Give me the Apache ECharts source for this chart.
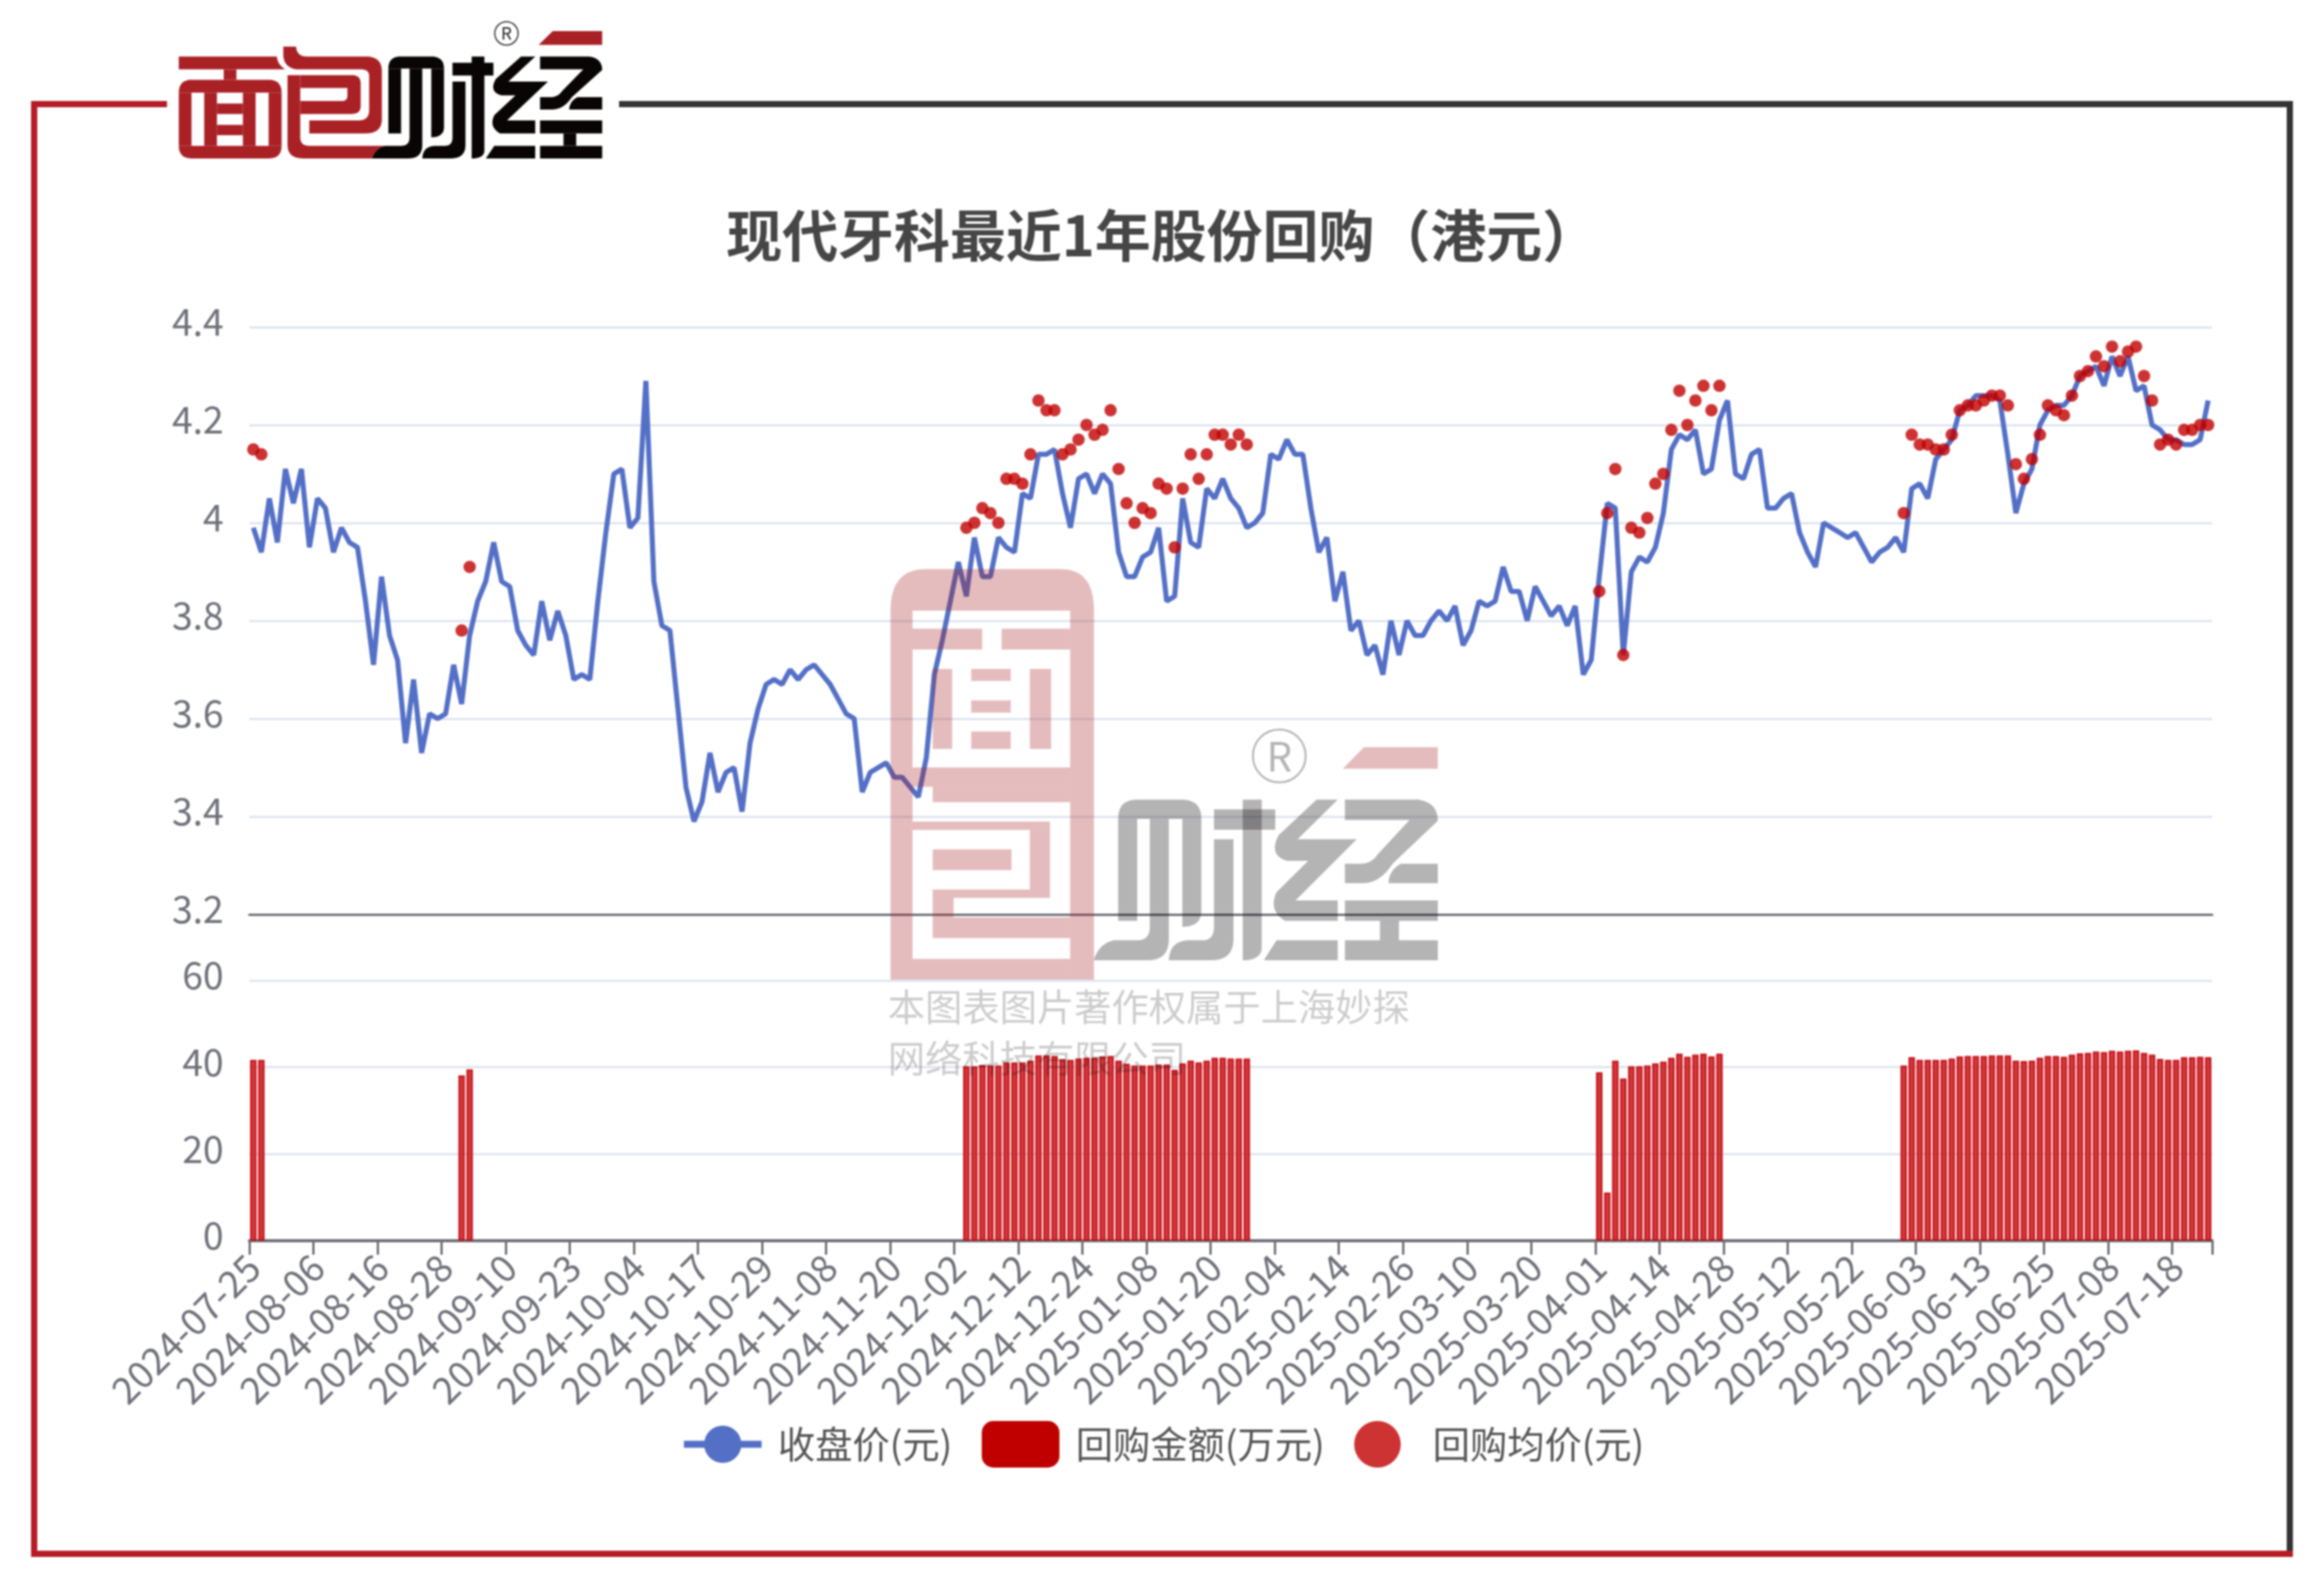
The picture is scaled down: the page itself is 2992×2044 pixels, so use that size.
<!DOCTYPE html>
<html><head><meta charset="utf-8">
<style>html,body{margin:0;padding:0;background:#fff}#main{width:2992px;height:2044px;filter:blur(0.9px)}</style>
<script src="https://cdn.jsdelivr.net/npm/echarts@6/dist/echarts.min.js"></script>
</head><body><div id="main"></div>
<script>
const titleText = '现代牙科最近1年股份回购（港元）';
const seriesNames = ['收盘价(元)', '回购金额(万元)', '回购均价(元)'];
const dates = [
'2024-07-25','2024-07-26','2024-07-29','2024-07-30','2024-07-31','2024-08-01','2024-08-02','2024-08-05',
'2024-08-06','2024-08-07','2024-08-08','2024-08-09','2024-08-12','2024-08-13','2024-08-14','2024-08-15',
'2024-08-16','2024-08-19','2024-08-20','2024-08-21','2024-08-22','2024-08-23','2024-08-26','2024-08-27',
'2024-08-28','2024-08-29','2024-08-30','2024-09-02','2024-09-03','2024-09-04','2024-09-05','2024-09-09',
'2024-09-10','2024-09-11','2024-09-12','2024-09-13','2024-09-16','2024-09-17','2024-09-19','2024-09-20',
'2024-09-23','2024-09-24','2024-09-25','2024-09-26','2024-09-27','2024-09-30','2024-10-02','2024-10-03',
'2024-10-04','2024-10-07','2024-10-08','2024-10-09','2024-10-10','2024-10-14','2024-10-15','2024-10-16',
'2024-10-17','2024-10-18','2024-10-21','2024-10-22','2024-10-23','2024-10-24','2024-10-25','2024-10-28',
'2024-10-29','2024-10-30','2024-10-31','2024-11-01','2024-11-04','2024-11-05','2024-11-06','2024-11-07',
'2024-11-08','2024-11-11','2024-11-12','2024-11-13','2024-11-14','2024-11-15','2024-11-18','2024-11-19',
'2024-11-20','2024-11-21','2024-11-22','2024-11-25','2024-11-26','2024-11-27','2024-11-28','2024-11-29',
'2024-12-02','2024-12-03','2024-12-04','2024-12-05','2024-12-06','2024-12-09','2024-12-10','2024-12-11',
'2024-12-12','2024-12-13','2024-12-16','2024-12-17','2024-12-18','2024-12-19','2024-12-20','2024-12-23',
'2024-12-24','2024-12-27','2024-12-30','2024-12-31','2025-01-02','2025-01-03','2025-01-06','2025-01-07',
'2025-01-08','2025-01-09','2025-01-10','2025-01-13','2025-01-14','2025-01-15','2025-01-16','2025-01-17',
'2025-01-20','2025-01-21','2025-01-22','2025-01-23','2025-01-24','2025-01-27','2025-01-28','2025-02-03',
'2025-02-04','2025-02-05','2025-02-06','2025-02-07','2025-02-10','2025-02-11','2025-02-12','2025-02-13',
'2025-02-14','2025-02-17','2025-02-18','2025-02-19','2025-02-20','2025-02-21','2025-02-24','2025-02-25',
'2025-02-26','2025-02-27','2025-02-28','2025-03-03','2025-03-04','2025-03-05','2025-03-06','2025-03-07',
'2025-03-10','2025-03-11','2025-03-12','2025-03-13','2025-03-14','2025-03-17','2025-03-18','2025-03-19',
'2025-03-20','2025-03-21','2025-03-24','2025-03-25','2025-03-26','2025-03-27','2025-03-28','2025-03-31',
'2025-04-01','2025-04-02','2025-04-03','2025-04-07','2025-04-08','2025-04-09','2025-04-10','2025-04-11',
'2025-04-14','2025-04-15','2025-04-16','2025-04-17','2025-04-22','2025-04-23','2025-04-24','2025-04-25',
'2025-04-28','2025-04-29','2025-04-30','2025-05-02','2025-05-06','2025-05-07','2025-05-08','2025-05-09',
'2025-05-12','2025-05-13','2025-05-14','2025-05-15','2025-05-16','2025-05-19','2025-05-20','2025-05-21',
'2025-05-22','2025-05-23','2025-05-26','2025-05-27','2025-05-28','2025-05-29','2025-05-30','2025-06-02',
'2025-06-03','2025-06-04','2025-06-05','2025-06-06','2025-06-09','2025-06-10','2025-06-11','2025-06-12',
'2025-06-13','2025-06-16','2025-06-17','2025-06-18','2025-06-19','2025-06-20','2025-06-23','2025-06-24',
'2025-06-25','2025-06-26','2025-06-27','2025-06-30','2025-07-02','2025-07-03','2025-07-04','2025-07-07',
'2025-07-08','2025-07-09','2025-07-10','2025-07-11','2025-07-14','2025-07-15','2025-07-16','2025-07-17',
'2025-07-18','2025-07-21','2025-07-22','2025-07-23','2025-07-24'];
const closePrice = [
3.99,3.94,4.05,3.96,4.11,4.04,4.11,3.95,4.05,4.03,
3.94,3.99,3.96,3.95,3.84,3.71,3.89,3.77,3.72,3.55,
3.68,3.53,3.61,3.60,3.61,3.71,3.63,3.77,3.84,3.88,
3.96,3.88,3.87,3.78,3.75,3.73,3.84,3.76,3.82,3.77,
3.68,3.69,3.68,3.84,3.98,4.10,4.11,3.99,4.01,4.29,
3.88,3.79,3.78,3.62,3.46,3.39,3.43,3.53,3.45,3.49,
3.50,3.41,3.55,3.62,3.67,3.68,3.67,3.70,3.68,3.70,
3.71,3.69,3.67,3.64,3.61,3.60,3.45,3.49,3.50,3.51,
3.48,3.48,3.46,3.44,3.52,3.69,3.76,3.84,3.92,3.85,
3.97,3.89,3.89,3.97,3.95,3.94,4.06,4.05,4.14,4.14,
4.15,4.06,3.99,4.09,4.10,4.06,4.10,4.08,3.94,3.89,
3.89,3.93,3.94,3.99,3.84,3.85,4.05,3.96,3.95,4.07,
4.05,4.09,4.05,4.03,3.99,4.00,4.02,4.14,4.13,4.17,
4.14,4.14,4.03,3.94,3.97,3.84,3.90,3.78,3.80,3.73,
3.75,3.69,3.80,3.73,3.80,3.77,3.77,3.80,3.82,3.80,
3.83,3.75,3.78,3.84,3.83,3.84,3.91,3.86,3.86,3.80,
3.87,3.84,3.81,3.83,3.79,3.83,3.69,3.72,3.89,4.04,
4.03,3.73,3.90,3.93,3.92,3.95,4.02,4.15,4.18,4.17,
4.19,4.10,4.11,4.21,4.25,4.10,4.09,4.14,4.15,4.03,
4.03,4.05,4.06,3.98,3.94,3.91,4.00,3.99,3.98,3.97,
3.98,3.95,3.92,3.94,3.95,3.97,3.94,4.07,4.08,4.05,
4.13,4.15,4.17,4.23,4.24,4.26,4.26,4.26,4.25,4.14,
4.02,4.08,4.11,4.20,4.23,4.24,4.24,4.26,4.30,4.31,
4.32,4.28,4.34,4.30,4.34,4.27,4.28,4.20,4.19,4.17,
4.17,4.16,4.16,4.17,4.25];
// Buyback days come in runs: position of each run's first trading day in `dates`
const runStarts = [0, 26, 89, 168, 206];
const runAmounts = [
[41.7,41.7],
[38.1,39.5],
[40.2,40.2,40.5,40.4,40.4,41.1,41.1,41.1,41.5,42.7,42.7,42.6,41.8,41.7,42,42.2,42.2,42.5,42.6,41.5,40.8,40.4,40.4,40.4,40.6,40.6,39.4,40.9,41.5,41.1,41.5,42.2,42.2,42,42,42],
[38.8,11.1,41.5,37.4,40.2,40.2,40.4,40.9,41.3,42.2,43.1,42.4,42.9,43.1,42.5,43.1],
[40.4,42.3,41.7,41.7,41.7,41.7,42,42.5,42.6,42.6,42.6,42.7,42.7,42.7,41.5,41.4,41.5,42.2,42.6,42.6,42.4,42.9,43.2,43.3,43.6,43.5,43.8,43.6,43.8,43.9,43.3,42.9,41.9,41.7,41.7,42.3,42.3,42.4,42.3]];
const runPrices = [
[4.15,4.14],
[3.78,3.91],
[3.99,4.00,4.03,4.02,4.00,4.09,4.09,4.08,4.14,4.25,4.23,4.23,4.14,4.15,4.17,4.20,4.18,4.19,4.23,4.11,4.04,4.00,4.03,4.02,4.08,4.07,3.95,4.07,4.14,4.09,4.14,4.18,4.18,4.16,4.18,4.16],
[3.86,4.02,4.11,3.73,3.99,3.98,4.01,4.08,4.10,4.19,4.27,4.20,4.25,4.28,4.23,4.28],
[4.02,4.18,4.16,4.16,4.15,4.15,4.18,4.23,4.24,4.24,4.25,4.26,4.26,4.24,4.12,4.09,4.13,4.18,4.24,4.23,4.22,4.26,4.30,4.31,4.34,4.32,4.36,4.33,4.35,4.36,4.30,4.25,4.16,4.17,4.16,4.19,4.19,4.20,4.20]];

function expandRuns(runs){
  const out = dates.map(() => null);
  runs.forEach((run, r) => run.forEach((v, i) => { out[runStarts[r] + i] = v; }));
  return out;
}

const FONT = '"Noto Sans CJK SC","Noto Sans",sans-serif';
const RED = '#a92125', BLACK = '#0a0505';

// Brand artwork (frame, logo, watermark): decoration, not data
const glyphMian = [
 'M28,128L375,128Q378,160 405,178L28,178Z','M187,178L232,178L232,218L187,218Z',
 'M28,268Q28,218 75,218L345,218Q392,218 392,268Z','M28,268L73,268L73,473L28,473Z','M118,268L163,268L163,473L118,473Z',
 'M255,268L300,268L300,473L255,473Z','M346,268L392,268L392,473L346,473Z','M163,310L255,310L255,350L163,350Z','M163,392L255,392L255,432L163,432Z',
 'M28,473L392,473Q392,522 345,522L75,522Q28,522 28,473Z'];
const glyphBao = [
 'M398,90L443,90Q446,128 480,128L690,128Q747,128 747,185L747,370Q747,425 690,425L490,425L490,375L665,375Q702,375 702,335L702,205Q702,178 675,178L445,178Q398,170 398,120Z',
 'M413,200L458,200L458,440Q458,473 490,473L760,473Q725,480 712,522L470,522Q413,522 413,470Z',
 'M458,200L640,200Q672,200 672,232L672,320Q672,350 640,350L458,350L458,300L605,300Q625,300 625,280L625,250L458,250Z'];
const glyphCaiJing = [
 'M770,175Q770,128 815,128L920,128Q967,128 967,175Z','M770,175L815,175L815,425L770,425Z',
 'M845,175L890,175L890,470Q890,522 840,522L712,522Q725,480 760,473L815,473Q845,473 845,440Z',
 'M922,175L967,175L967,400Q967,440 922,440Z',
 'M997,152L1142,152L1142,202L997,202Z','M1065,128L1110,128L1110,490Q1110,522 1065,522Z',
 'M997,225L1043,225L1043,470Q1043,522 990,522L890,522Q892,475 935,473L970,473Q997,473 997,440Z',
 'M1240,128L1290,128L1195,225L1335,225L1190,375L1290,375L1290,425L1165,425Q1125,400 1145,355L1220,278L1170,278Q1125,265 1150,215Z',
 'M1145,473L1290,473L1290,522L1115,522Z',
 'M1307,128L1480,128Q1527,135 1527,180L1420,285Q1390,333 1350,333L1307,333L1307,285L1345,285Q1370,285 1385,262L1460,178L1307,178Z',
 'M1440,285L1527,285L1527,333L1410,333Q1412,300 1440,285Z',
 'M1307,375L1527,375L1527,425L1307,425Z','M1390,425L1435,425L1435,473L1390,473Z','M1307,473L1527,473L1527,522L1307,522Z'];
const glyphTab = ['M1352,30L1527,30L1527,83L1302,83Z'];
const stampPink = [
 'M35,185Q35,35 130,35L500,35Q590,35 590,185Z','M35,185L95,185L95,1515L35,1515Z','M525,185L590,185L590,1515L525,1515Z',
 'M95,250L285,250L285,325L95,325Z','M338,250L525,250L525,325L338,325Z',
 'M150,395L203,395L203,683L150,683Z','M255,395L363,395L363,438L255,438Z','M255,508L363,508L363,552L255,552Z','M255,620L363,620L363,683L255,683Z','M415,395L473,395L473,683L415,683Z',
 'M95,750L525,750L525,820L95,820Z','M150,820L525,820L525,875L150,875Z',
 'M95,945L470,945L470,975L95,975Z','M415,975L470,975L470,1190L415,1190Z','M150,1190L470,1190L470,1220L150,1220Z','M150,1220L207,1220L207,1290L150,1290Z','M150,1290L525,1290L525,1365L150,1365Z',
 'M150,1045L365,1045L365,1120L150,1120Z','M95,1440L525,1440L525,1515L95,1515Z'];
// The graphic component has no raw path type, so outlines (M/L/Q/Z) are flattened to polygons
function outline(d){
  const pts = []; let cur = null;
  const re = /([MLQZ])([^MLQZ]*)/g; let m;
  while ((m = re.exec(d))) {
    const n = m[2].trim() ? m[2].trim().split(/[ ,]+/).map(Number) : [];
    if (m[1] === 'Q') {
      for (let k = 1; k <= 10; k++) { const t = k/10, u = 1-t;
        pts.push([u*u*cur[0]+2*u*t*n[0]+t*t*n[2], u*u*cur[1]+2*u*t*n[1]+t*t*n[3]]); }
      cur = [n[2], n[3]];
    } else if (m[1] !== 'Z') { cur = [n[0], n[1]]; pts.push(cur); }
  }
  return pts;
}
const paths = (list, fill) => list.map(d => ({type:'polygon', shape:{points:outline(d)}, style:{fill}}));
const box = (x,y,width,height,fill) => ({type:'rect', shape:{x,y,width,height}, style:{fill}});
const rMark = (cx,cy,r,lw,fs,col) => [
  {type:'circle', shape:{cx,cy,r}, style:{fill:'transparent', stroke:col, lineWidth:lw}},
  {type:'text', x:cx, y:cy, style:{text:'R', fill:col, font:fs+'px '+FONT, textAlign:'center', textVerticalAlign:'middle'}}];

const decorations = [
  box(40,130,175,8,'#b51c26'), box(40,130,8,1874,'#b51c26'), box(40,1996,2912,8,'#b51c26'),
  box(797,130,2155,8,'#333333'), box(2944,130,8,1866,'#333333'),
  {type:'group', x:220, y:30, scaleX:1/2.75, scaleY:1/3, children:[
    ...paths(glyphMian,RED), ...paths(glyphBao,RED), ...paths(glyphCaiJing,BLACK), ...paths(glyphTab,RED)]},
  ...rMark(652,43,15,1.5,22,'#222'),
  {type:'group', z:50, x:1130, y:720, scaleX:1/2.119, scaleY:1/2.8, children:paths(stampPink,'rgba(169,33,37,0.3)').map(o => ({...o, z:50}))},
  {type:'group', z:50, x:1021, y:962, scaleX:0.5436, scaleY:0.525, children:paths(glyphCaiJing,'rgba(10,5,5,0.3)').map(o => ({...o, z:50}))},
  {type:'group', z:50, x:1021, y:946, scaleX:0.5436, scaleY:0.525, children:paths(glyphTab,'rgba(169,33,37,0.3)').map(o => ({...o, z:50}))},
  ...rMark(1647,973,34,2.5,52,'rgba(10,5,5,0.3)').map(o => ({...o, z:50})),
  {type:'text', z:50, x:1143, y:1272, style:{text:'本图表图片著作权属于上海妙探', fill:'rgba(0,0,0,0.2)', font:'48px '+FONT}},
  {type:'text', z:50, x:1143, y:1338, style:{text:'网络科技有限公司', fill:'rgba(0,0,0,0.2)', font:'48px '+FONT}}
];

const axisColor = '#6e7079';
const gridLine = {show:true, lineStyle:{color:'#E0E6F1', width:3}};
const yLabel = {color:axisColor, fontSize:48, margin:33, fontFamily:FONT, verticalAlign:'bottom', lineHeight:14};

const chart = echarts.init(document.getElementById('main'), null, {renderer:'canvas', width:2992, height:2044});
chart.setOption({
  animation:false,
  backgroundColor:'#fff',
  title:{text:titleText, left:930, top:262, textStyle:{fontSize:72, fontWeight:'bold', color:'#464646', fontFamily:FONT}},
  legend:{
    left:876, top:1829, padding:0, itemWidth:100, itemHeight:60, itemGap:38,
    textStyle:{fontSize:48, color:'#555', fontFamily:FONT, padding:[0,0,0,16]},
    data:[
      {name:seriesNames[0], lineStyle:{width:9}},
      {name:seriesNames[1], itemStyle:{color:'#c00000', borderWidth:0, opacity:1}},
      {name:seriesNames[2]}
    ]
  },
  grid:[
    {left:321, width:2527, top:421, height:756},
    {left:321, width:2527, top:1262, height:335}
  ],
  xAxis:[
    {type:'category', gridIndex:0, data:dates, boundaryGap:true,
     axisLine:{lineStyle:{color:axisColor, width:3}}, axisTick:{show:false}, axisLabel:{show:false}},
    {type:'category', gridIndex:1, data:dates, boundaryGap:true,
     axisLine:{lineStyle:{color:axisColor, width:4}},
     axisTick:{show:true, interval:7, length:18, lineStyle:{color:axisColor, width:3}},
     axisLabel:{interval:7, rotate:45, fontSize:48, margin:26, color:axisColor, fontFamily:FONT, hideOverlap:false}}
  ],
  yAxis:[
    {type:'value', gridIndex:0, min:3.2, max:4.4, interval:0.2, axisLine:{show:false}, axisTick:{show:false}, splitLine:gridLine, axisLabel:yLabel},
    {type:'value', gridIndex:1, min:0, max:60, interval:20, axisLine:{show:false}, axisTick:{show:false}, splitLine:gridLine, axisLabel:yLabel}
  ],
  series:[
    {name:seriesNames[0], type:'line', xAxisIndex:0, yAxisIndex:0, data:closePrice, showSymbol:false, symbol:'circle',
     lineStyle:{color:'#5470c6', width:6.5}, itemStyle:{color:'#5470c6'}, z:3},
    {name:seriesNames[1], type:'bar', xAxisIndex:1, yAxisIndex:1, data:expandRuns(runAmounts), barWidth:'80%',
     itemStyle:{color:'rgba(205,35,40,0.9)', borderColor:'#c40d14', borderWidth:2}},
    {name:seriesNames[2], type:'scatter', xAxisIndex:0, yAxisIndex:0, data:expandRuns(runPrices), symbol:'circle', symbolSize:16,
     itemStyle:{color:'#c00000', opacity:0.8}, z:4}
  ],
  graphic:decorations
});
</script></body></html>
